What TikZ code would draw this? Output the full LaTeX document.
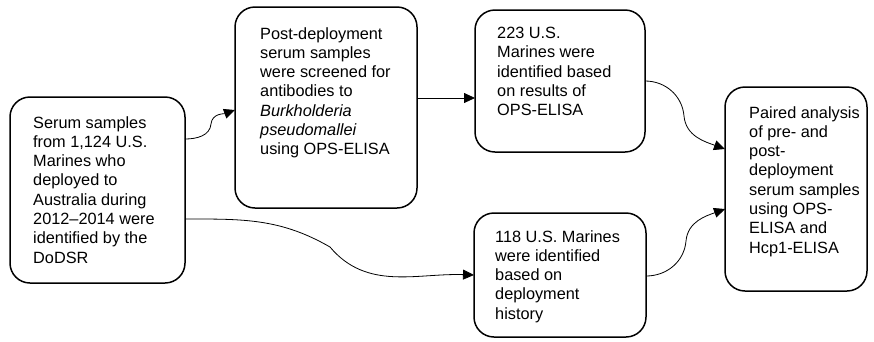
\documentclass[tikz,border=0pt]{standalone}
\usepackage{fontspec}
\setmainfont{Liberation Sans}
\usetikzlibrary{arrows.meta}
\begin{document}
\begin{tikzpicture}[x=1pt,y=-1pt,
  box/.style={draw=black,line width=1.5pt,rounded corners=20pt,inner sep=0pt,outer sep=0pt},
  boxtext/.style={anchor=north west,inner sep=0pt,align=left,font=\fontsize{16.3pt}{19.3pt}\selectfont},
  conn/.style={draw=black,line width=0.8pt,-{Triangle[length=11pt,width=10pt]}}]
\useasboundingbox (0,0) rectangle (874,341);
% boxes
\node[box,minimum width=175pt,minimum height=186pt] (A) at (97.5,190) {};
\node[box,minimum width=182pt,minimum height=201pt] (B) at (326,107.5) {};
\node[box,minimum width=170pt,minimum height=142pt] (C) at (560,81) {};
\node[box,minimum width=172pt,minimum height=124pt] (D) at (560,275) {};
\node[box,minimum width=142pt,minimum height=204pt] (E) at (796,189) {};
% texts
\node[boxtext] (tA) at ([xshift=23pt,yshift=-19pt]A.north west) {Serum samples\\from 1,124 U.S.\\Marines who\\deployed to\\Australia during\\2012–2014 were\\identified by the\\DoDSR};
\node[boxtext] (tB) at ([xshift=25pt,yshift=-20pt]B.north west) {Post-deployment\\serum samples\\were screened for\\antibodies to\\\textit{Burkholderia}\\\textit{pseudomallei}\\using OPS-ELISA};
\node[boxtext] (tC) at ([xshift=22pt,yshift=-17pt]C.north west) {223 U.S.\\Marines were\\identified based\\on results of\\OPS-ELISA};
\node[boxtext] (tD) at ([xshift=21pt,yshift=-17pt]D.north west) {118 U.S. Marines\\were identified\\based on\\deployment\\history};
\node[boxtext] (tE) at ([xshift=24pt,yshift=-19pt]E.north west) {Paired analysis\\of pre- and\\post-\\deployment\\serum samples\\using OPS-\\ELISA and\\Hcp1-ELISA};
% waypoints
\coordinate (mAB) at (211,124);
\coordinate (mAD) at (330,247);
\coordinate (mCE) at (684,116);
\coordinate (mDE) at (686,241);
% connectors
\draw[conn] ([yshift=51pt]A.east) to[out=0,in=-95] (mAB) to[out=85,in=200] ([yshift=-2.5pt]B.west);
\draw[conn] ([yshift=9.5pt]B.east) -- ([yshift=-17pt]C.west);
\draw[conn] (C.east) to[out=0,in=95] (mCE) to[out=-85,in=160] ([yshift=40pt]E.west);
\draw[conn] ([yshift=-29pt]A.east) to[out=0,in=150] (mAD) to[out=-50,in=178] (D.west);
\draw[conn] ([yshift=-1pt]D.east) to[out=0,in=-95] (mDE) to[out=85,in=200] ([yshift=-20pt]E.west);
\end{tikzpicture}
\end{document}
